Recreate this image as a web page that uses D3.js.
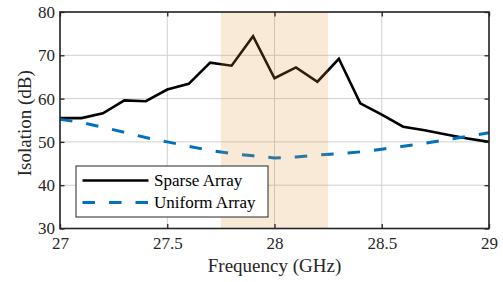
<!DOCTYPE html>
<html>
<head>
<meta charset="utf-8">
<script src="https://cdn.jsdelivr.net/npm/d3@7"></script>
<style>
  html, body { margin: 0; padding: 0; background: #fff; }
  svg { display: block; }
  svg text { font-family: 'Liberation Serif', 'Times New Roman', Times, 'DejaVu Serif', serif !important; }
</style>
</head>
<body>
<svg id="chart" width="503" height="282"></svg>
<script>
// ---- data ----
const frequency = [27.0, 27.1, 27.2, 27.3, 27.4, 27.5, 27.6, 27.7, 27.8, 27.9, 28.0,
                   28.1, 28.2, 28.3, 28.4, 28.5, 28.6, 28.7, 28.8, 28.9, 29.0];
const sparseArray = [55.5, 55.5, 56.6, 59.6, 59.4, 62.1, 63.4, 68.3, 67.6, 74.4, 64.7,
                     67.2, 63.9, 69.2, 58.9, 56.3, 53.5, 52.7, 51.7, 50.8, 50.0];
const uniformArray = [55.2, 54.5, 53.4, 52.2, 51.0, 50.0, 49.0, 48.0, 47.3, 46.8, 46.3,
                      46.5, 47.0, 47.3, 47.7, 48.3, 49.0, 49.7, 50.5, 51.3, 52.1];
const seriesNames = ["Sparse Array", "Uniform Array"];
const xTicks = [27, 27.5, 28, 28.5, 29];
const xTickLabels = ["27", "27.5", "28", "28.5", "29"];
const yTicks = [30, 40, 50, 60, 70, 80];
const yTickLabels = ["30", "40", "50", "60", "70", "80"];
const band = [27.75, 28.25];
const xTitle = "Frequency (GHz)";
const yTitle = "Isolation (dB)";

// ---- layout ----
const L = 60, R = 489, T = 12, B = 228.5;
const FONT = "'Liberation Serif', 'Times New Roman', Times, serif";
const svg = d3.select("#chart");
const x = d3.scaleLinear().domain([27, 29]).range([L, R]);
const y = d3.scaleLinear().domain([30, 80]).range([B, T]);

// grid
const grid = svg.append("g");
grid.selectAll("line.gx").data(xTicks).join("line")
  .attr("x1", d => x(d)).attr("x2", d => x(d)).attr("y1", T).attr("y2", B)
  .attr("stroke", "#d0d0d0").attr("stroke-width", 1);
grid.selectAll("line.gy").data(yTicks).join("line")
  .attr("y1", d => y(d)).attr("y2", d => y(d)).attr("x1", L).attr("x2", R)
  .attr("stroke", "#d0d0d0").attr("stroke-width", 1);

// lines
const line = (vals) => d3.line().x((d, i) => x(frequency[i])).y(d => y(d))(vals);
svg.append("path").attr("d", line(sparseArray))
  .attr("fill", "none").attr("stroke", "#000").attr("stroke-width", 2.6)
  .attr("stroke-linejoin", "miter");
svg.append("path").attr("d", line(uniformArray))
  .attr("fill", "none").attr("stroke", "#0072BD").attr("stroke-width", 3)
  .attr("stroke-dasharray", "12.5,14");

// band overlay (drawn on top, translucent)
svg.append("rect")
  .attr("x", x(band[0])).attr("y", T)
  .attr("width", x(band[1]) - x(band[0])).attr("height", B - T)
  .attr("fill", "#E19137").attr("fill-opacity", 0.2);

// axes
const ax = svg.append("g").attr("transform", `translate(0,${B})`)
  .call(d3.axisBottom(x).tickValues(xTicks).tickFormat((d, i) => xTickLabels[i]).tickSizeInner(-4.5).tickSizeOuter(0));
const axT = svg.append("g").attr("transform", `translate(0,${T})`)
  .call(d3.axisTop(x).tickValues(xTicks).tickFormat("").tickSizeInner(-4.5).tickSizeOuter(0));
const ay = svg.append("g").attr("transform", `translate(${L},0)`)
  .call(d3.axisLeft(y).tickValues(yTicks).tickFormat((d, i) => yTickLabels[i]).tickSizeInner(-4.5).tickSizeOuter(0));
const ayR = svg.append("g").attr("transform", `translate(${R},0)`)
  .call(d3.axisRight(y).tickValues(yTicks).tickFormat("").tickSizeInner(-4.5).tickSizeOuter(0));

[ax, axT, ay, ayR].forEach(g => {
  g.attr("font-family", null).attr("font-size", null);
  g.select(".domain").remove();
  g.selectAll(".tick line").attr("stroke", "#262626").attr("stroke-width", 1.3);
  g.selectAll("text").style("font-family", FONT)
    .attr("font-size", 17).attr("fill", "#262626");
});
ax.selectAll(".tick text").attr("y", 0).attr("dy", 0)
  .attr("transform", "translate(0,20)");
ay.selectAll(".tick text").attr("x", -5).attr("dy", "0.32em");

// box
svg.append("rect").attr("x", L).attr("y", T).attr("width", R - L).attr("height", B - T)
  .attr("fill", "none").attr("stroke", "#262626").attr("stroke-width", 1.6);

// axis titles
svg.append("text").attr("x", (L + R) / 2).attr("y", 272)
  .attr("text-anchor", "middle").attr("font-size", 19).attr("fill", "#262626")
  .style("font-family", FONT).text(xTitle);
svg.append("text").attr("transform", `translate(31,${(T + B) / 2 + 3}) rotate(-90)`)
  .attr("text-anchor", "middle").attr("font-size", 19).attr("fill", "#262626")
  .style("font-family", FONT).text(yTitle);

// legend
const lg = svg.append("g");
lg.append("rect").attr("x", 76).attr("y", 166).attr("width", 192).attr("height", 51)
  .attr("fill", "#fff").attr("stroke", "#262626").attr("stroke-width", 1);
const legendItems = [
  { name: seriesNames[0], color: "#000", dash: null, w: 2.6 },
  { name: seriesNames[1], color: "#0072BD", dash: "12.5,14", w: 3 }
];
legendItems.forEach((it, i) => {
  const cy = 180.5 + i * 22;
  lg.append("line").attr("x1", 82.5).attr("x2", 148.5).attr("y1", cy).attr("y2", cy)
    .attr("stroke", it.color).attr("stroke-width", it.w)
    .attr("stroke-dasharray", it.dash);
  lg.append("text").attr("x", 154).attr("y", cy).attr("dy", "0.33em")
    .attr("font-size", 17).attr("fill", "#000").style("font-family", FONT).text(it.name);
});
</script>
</body>
</html>
